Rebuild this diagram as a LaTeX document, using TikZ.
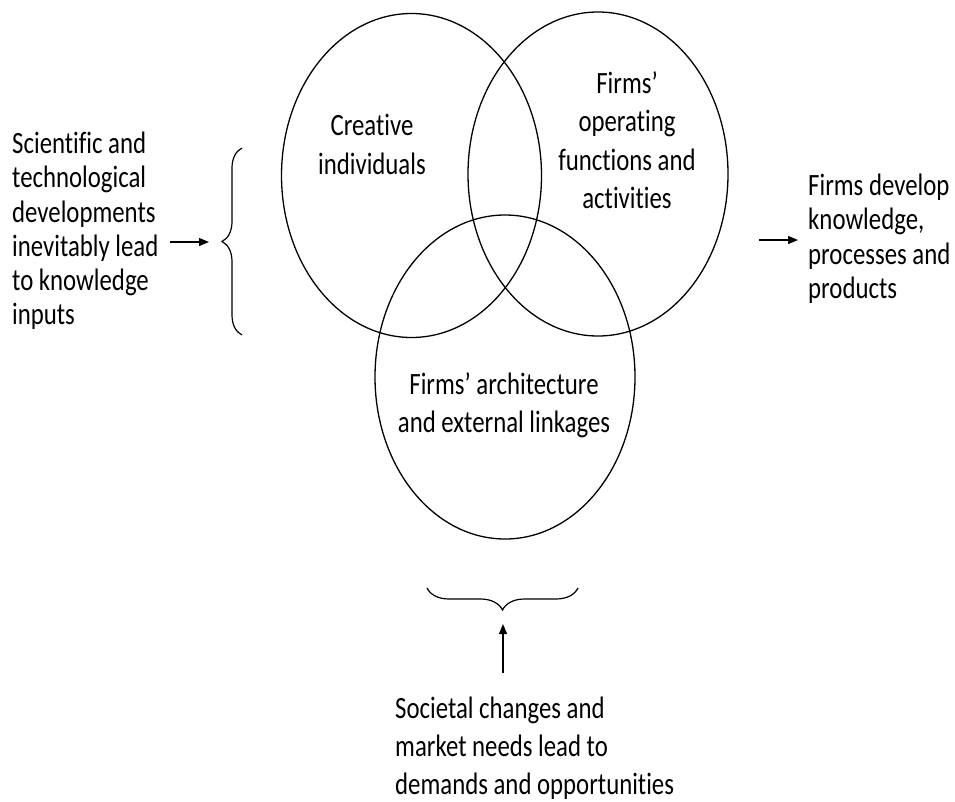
\documentclass[tikz,border=0pt]{standalone}
\usepackage{fontspec}
\setmainfont[Ligatures=NoCommon]{Carlito}
\usetikzlibrary{shapes.geometric,arrows.meta,decorations.pathreplacing}
\begin{document}
\begin{tikzpicture}[x=1pt,y=-1pt,
  sphere/.style={ellipse, draw, line width=1.3pt, minimum width=260pt, minimum height=324pt, inner sep=0pt},
  label/.style={inner sep=0pt, yscale=1.25, font=\fontsize{24.8}{27.3}\selectfont},
  inlabel/.style={label, align=center, font=\fontsize{24.8}{30.8}\selectfont},
  flow/.style={-{Triangle[length=10pt,width=8pt]}, line width=1.2pt},
  curly/.style={decorate, line width=1.2pt, decoration={brace, amplitude=#1}}]
  % canvas
  \path[fill=white] (0,0) rectangle (955,801);
  \useasboundingbox (0,0) rectangle (955,801);

  % the three overlapping spheres
  \node[sphere] (c1) at (411.5,175.5) {};
  \node[sphere] (c2) at (598,174) {};
  \node[sphere] (c3) at (505,377) {};

  \node[inlabel, anchor=north] (t1) at (372,114) {Creative\\individuals};
  \node[inlabel, anchor=north] (t2) at (627,71) {Firms’\\operating\\functions and\\activities};
  \node[inlabel, anchor=north] (t3) at (504,372) {Firms’ architecture\\and external linkages};

  % inputs on the left
  \node[label, align=left, anchor=north west] (inputs) at (12,132)
    {Scientific and\\technological\\developments\\inevitably lead\\to knowledge\\inputs};
  \coordinate (inA) at (170,242);
  \coordinate (inB) at (209,242);
  \draw[flow] (inA) -- (inB);
  \coordinate (brL1) at (242,335);
  \coordinate (brL2) at (242,148);
  \draw[curly=20pt] (brL1) -- (brL2);

  % outputs on the right
  \node[label, align=left, anchor=north west] (outputs) at (808,174)
    {Firms develop\\knowledge,\\processes and\\products};
  \coordinate (outA) at (759,240);
  \coordinate (outB) at (798,240);
  \draw[flow] (outA) -- (outB);

  % demands from below
  \node[label, align=left, anchor=north west, font=\fontsize{24.8}{30.4}\selectfont] (demands) at (395,697)
    {Societal changes and\\market needs lead to\\demands and opportunities};
  \coordinate (brB1) at (578,588);
  \coordinate (brB2) at (427,588);
  \draw[curly=22pt] (brB1) -- (brB2);
  \coordinate (upA) at (503,673);
  \coordinate (upB) at (503,624);
  \draw[flow] (upA) -- (upB);
\end{tikzpicture}
\end{document}
